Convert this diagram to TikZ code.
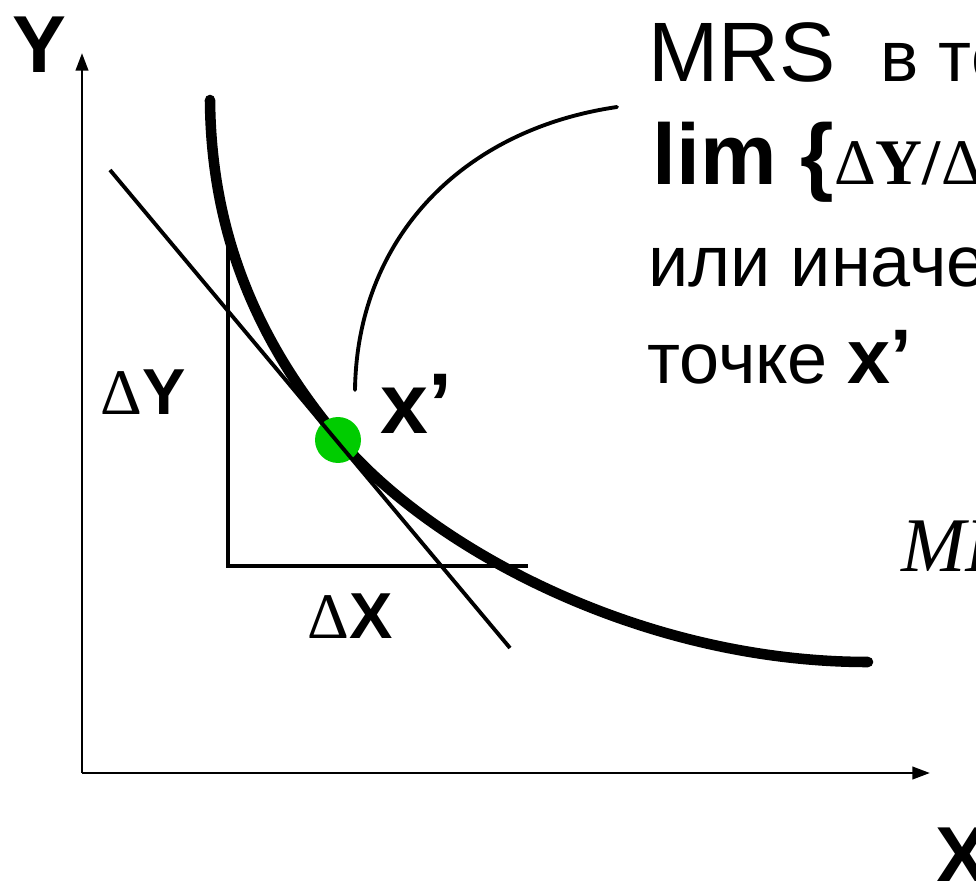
\documentclass[tikz,border=0pt]{standalone}
\usepackage{fontspec}
\setmainfont{Liberation Sans}
\newfontfamily\timesfont{Liberation Serif}
\usetikzlibrary{arrows.meta}
\definecolor{pointgreen}{HTML}{00CC00}

\begin{document}
\begin{tikzpicture}[x=0.02cm, y=-0.02cm,
    axis/.style={line width=1.6pt, -{Triangle[length=10pt,width=7pt]}},
    indiff/.style={line width=6pt, line cap=round},
    tangent/.style={line width=2.2pt},
    delta/.style={line width=2.5pt},
    leader/.style={line width=2.2pt, line cap=round},
    lbl/.style={inner sep=0pt, anchor=base west}]
  \useasboundingbox (0,0) rectangle (976,881);
  \clip (0,0) rectangle (976,881);
  % axes
  \coordinate (O) at (82,773);
  \draw[axis] (O) -- (82,53);
  \draw[axis] (O) -- (930,773);
  \node[lbl, font=\fontsize{46}{52}\selectfont\bfseries] (ylab) at (12,73) {Y};
  \node[lbl, font=\fontsize{46}{52}\selectfont\bfseries] (xlab) at (935,883) {X};
  % indifference curve, touching point xp
  \coordinate (xp) at (340,440);
  \draw[indiff] (210,100) .. controls (211,230) and (255,340) .. (xp)
    .. controls (430,547) and (640,662) .. (868,662);
  % point x'
  \node[circle, fill=pointgreen, minimum size=0.92cm, inner sep=0pt] (xdot) at (338,440) {};
  \draw[tangent] (110,170) -- (510,648);
  % delta steps
  \draw[delta] (228,237) -- (228,566) -- (528,566);
  \node[lbl, font=\fontsize{37}{44}\selectfont] (dy) at (100,415) {{\timesfont Δ}\textbf{Y}};
  \node[lbl, font=\fontsize{37}{44}\selectfont] (dx) at (307,638) {{\timesfont Δ}\textbf{X}};
  \node[lbl, font=\fontsize{49}{56}\selectfont\bfseries] (xpr) at (380,433) {x’};
  % callout text
  \coordinate (lstart) at (355,390);
  \coordinate (lend) at (617,107);
  \draw[leader] (lstart) .. controls (357,240) and (460,130) .. (lend);
  \node[lbl] (mrs) at (648,82) {\fontsize{48}{56}\selectfont MRS\hspace{0.9cm}{\fontsize{41}{48}\selectfont в точке}};
  \node[lbl] (lim) at (652,185) {\fontsize{49}{56}\selectfont\bfseries lim \{{\timesfont\fontsize{37}{44}\selectfont\mdseries Δ\textbf{Y/}Δ\textbf{X}}\}};
  \node[lbl] (ili) at (648,287) {\fontsize{41}{48}\selectfont или иначе};
  \node[lbl] (tochke) at (647,383) {\fontsize{41}{48}\selectfont точке {\fontsize{44}{50}\selectfont\bfseries x’}};
  \node[lbl] (mrsf) at (901,571) {\timesfont\itshape\fontsize{44}{50}\selectfont MRS};
\end{tikzpicture}
\end{document}
